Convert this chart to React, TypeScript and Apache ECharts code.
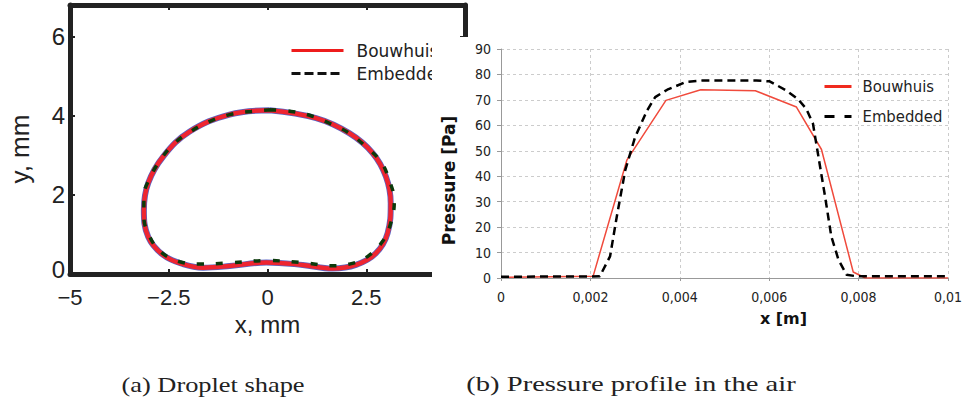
import React, { useEffect, useRef } from 'react';
import * as echarts from 'echarts';

// (a) Droplet shape, x and y in mm
const dropBouwhuisX = [0.05, -0.96, -1.97, -2.64, -3.02, -3.13, -3.02, -2.64, -2.14, -1.63, -0.96, -0.03, 0.89, 1.65, 2.24, 2.74, 3.04, 3.12, 3.0, 2.66, 2.07, 1.23, 0.05];
const dropBouwhuisY = [4.14, 4.03, 3.6, 2.97, 2.3, 1.62, 0.94, 0.48, 0.25, 0.16, 0.2, 0.29, 0.23, 0.14, 0.23, 0.52, 1.03, 1.79, 2.46, 3.06, 3.56, 3.94, 4.14];
const dropEmbeddedX = [0.09, -0.41, -0.96, -1.46, -1.95, -2.35, -2.68, -2.96, -3.13, -3.13, -2.98, -2.68, -2.22, -1.68, -0.96, -0.03, 1.06, 1.57, 2.07, 2.53, 2.91, 3.12, 3.21, 3.08, 2.87, 2.49, 2.07, 1.57, 1.1, 0.6, 0.09];
const dropEmbeddedY = [4.15, 4.11, 4.03, 3.86, 3.6, 3.31, 2.93, 2.46, 1.96, 1.45, 0.94, 0.54, 0.31, 0.25, 0.28, 0.34, 0.27, 0.21, 0.25, 0.44, 0.82, 1.28, 1.84, 2.38, 2.84, 3.22, 3.56, 3.81, 4.0, 4.11, 4.15];

// (b) Pressure profile in the air, x in m, pressure in Pa
const pressBouwhuisX = [0, 0.00206, 0.002815, 0.00369, 0.00447, 0.00569, 0.00661, 0.00717, 0.00788, 0.00815, 0.01];
const pressBouwhuis = [0.26, 0.65, 46.3, 69.8, 73.95, 73.6, 67.2, 50.5, 2.35, 0, 0];
const pressEmbeddedX = [0, 0.00221, 0.00244, 0.00259, 0.00278, 0.003, 0.00327, 0.00345, 0.00372, 0.00413, 0.0045, 0.00571, 0.00601, 0.00638, 0.00664, 0.00683, 0.00698, 0.00709, 0.00725, 0.00739, 0.00755, 0.00773, 0.00796, 0.01];
const pressEmbedded = [0.5, 0.65, 8.5, 24.1, 42.4, 55.4, 65.9, 71.1, 74.0, 77.0, 77.6, 77.6, 77.3, 73.7, 70.4, 66.5, 60.6, 48.9, 32.0, 16.3, 7.2, 1.3, 0.65, 0.65];

const captionA = '(a) Droplet shape';
const captionB = '(b) Pressure profile in the air';

const pairs = (xs: number[], ys: number[]) => xs.map((x, i) => [x, ys[i]]);

const helv = "'Liberation Sans', Arial, sans-serif";
const narrow = "'Liberation Sans Narrow', 'DejaVu Sans Condensed', 'Liberation Sans', sans-serif";
const cond = "'DejaVu Sans Condensed', 'DejaVu Sans', sans-serif";

const frameLine = { show: true, onZero: false, lineStyle: { color: '#222', width: 5 } };
const frameTick = { show: true, inside: true, length: 5, lineStyle: { color: '#222', width: 2 } };

const leftOption: any = {
  animation: false,
  grid: { left: 70, top: 5, width: 395, height: 269, containLabel: false },
  xAxis: [
    {
      type: 'value', min: -5, max: 5, interval: 2.5, position: 'bottom',
      axisLine: frameLine, axisTick: frameTick, splitLine: { show: false },
      axisLabel: {
        margin: 12, fontFamily: helv, fontSize: 22, lineHeight: 22, color: '#222',
        formatter: (v: number) => (v < 0 ? '\u2212' : '') + Math.abs(v),
      },
      name: 'x, mm', nameLocation: 'middle', nameGap: 39, nameMoveOverlap: false,
      nameTextStyle: { fontFamily: helv, fontSize: 24, lineHeight: 22, color: '#222' },
    },
    {
      type: 'value', min: -5, max: 5, interval: 2.5, position: 'top',
      axisLine: frameLine, axisTick: frameTick, splitLine: { show: false }, axisLabel: { show: false },
    },
  ],
  yAxis: [
    {
      type: 'value', min: 0, max: 6.8, interval: 2, position: 'left',
      axisLine: frameLine, axisTick: frameTick, splitLine: { show: false },
      axisLabel: {
        margin: 5, fontFamily: helv, fontSize: 24, color: '#222', showMaxLabel: false,
        formatter: (v: number) => (v === 0 ? '{z|0}' : String(v)),
        rich: { z: { fontFamily: helv, fontSize: 24, color: '#222', padding: [0, 0, 9, 0] } },
      },
      name: 'y, mm', nameLocation: 'middle', nameGap: 37, nameRotate: 90,
      nameTextStyle: { fontFamily: helv, fontSize: 26, color: '#222', padding: [0, 19, 0, 0] },
    },
    {
      type: 'value', min: 0, max: 6.8, interval: 2, position: 'right',
      axisLine: frameLine, axisTick: frameTick, splitLine: { show: false }, axisLabel: { show: false },
    },
  ],
  legend: {
    orient: 'vertical', left: 290, top: 42, padding: 0, itemWidth: 52, itemHeight: 14, itemGap: 6,
    itemStyle: { opacity: 0 },
    textStyle: { fontFamily: "'DejaVu Sans', sans-serif", fontSize: 17, color: '#222', padding: [0, 0, 0, 8] },
    data: [
      { name: 'Bouwhuis', lineStyle: { width: 3, color: '#ee1c1c' } },
      { name: 'Embedded', lineStyle: { width: 3, color: '#111', type: [9, 4] } },
    ],
  },
  series: [
    {
      name: 'outline', type: 'line', data: pairs(dropBouwhuisX, dropBouwhuisY), smooth: 0.4,
      symbol: 'none', lineStyle: { color: '#5a64c4', width: 6 }, z: 1,
    },
    {
      name: 'Bouwhuis', type: 'line', data: pairs(dropBouwhuisX, dropBouwhuisY), smooth: 0.4,
      symbol: 'none', itemStyle: { color: '#ee2530' }, lineStyle: { color: '#ee2530', width: 4.5 }, z: 2,
    },
    {
      name: 'Embedded', type: 'line', data: pairs(dropEmbeddedX, dropEmbeddedY), smooth: 0.4,
      symbol: 'none', itemStyle: { color: '#0b3a0b' }, lineStyle: { color: '#0b3a0b', width: 3.5, type: [7, 12] }, z: 3,
    },
  ],
  graphic: [
    {
      type: 'text', x: 213, y: 384, scaleX: 1.2,
      style: { text: captionA, fontFamily: "'Liberation Serif', serif", fontSize: 22, fill: '#222', align: 'center', verticalAlign: 'middle' },
    },
    {
      type: 'text', x: 631, y: 384, scaleX: 1.3,
      style: { text: captionB, fontFamily: "'Liberation Serif', serif", fontSize: 22, fill: '#222', align: 'center', verticalAlign: 'middle' },
    },
  ],
};

const rightOption: any = {
  animation: false,
  grid: { left: 63, top: 12, width: 454, height: 229, containLabel: false },
  xAxis: {
    type: 'value', min: 0, max: 0.01, interval: 0.002,
    axisLine: { show: true, onZero: false, lineStyle: { color: '#999', width: 1 } },
    axisTick: { show: true, length: 3, lineStyle: { color: '#999' } },
    splitLine: { show: true, lineStyle: { color: '#ccc', type: [3, 3], width: 1 } },
    axisLabel: {
      margin: 12, fontFamily: narrow, fontSize: 14, color: '#222',
      formatter: (v: number) => (v === 0 ? '0' : String(parseFloat(v.toFixed(4))).replace('.', ',')),
    },
    name: 'x [m]', nameLocation: 'middle', nameGap: 32,
    nameTextStyle: { fontFamily: "'DejaVu Sans', sans-serif", fontWeight: 'bold', fontSize: 16, color: '#111', padding: [0, 0, 0, 118] },
  },
  yAxis: {
    type: 'value', min: 0, max: 90, interval: 10,
    axisLine: { show: true, onZero: false, lineStyle: { color: '#999', width: 1 } },
    axisTick: { show: true, length: 4, lineStyle: { color: '#999' } },
    splitLine: { show: true, lineStyle: { color: '#ccc', type: [3, 3], width: 1 } },
    axisLabel: { margin: 10, fontFamily: narrow, fontSize: 14, color: '#222' },
    name: 'Pressure [Pa]', nameLocation: 'middle', nameGap: 44, nameRotate: 90,
    nameTextStyle: { fontFamily: "'DejaVu Sans', sans-serif", fontWeight: 'bold', fontSize: 17, color: '#111', padding: [0, 34, 0, 0] },
  },
  legend: {
    orient: 'vertical', left: 391, top: 41, padding: 0, itemWidth: 27, itemHeight: 14, itemGap: 13,
    itemStyle: { opacity: 0 },
    textStyle: { fontFamily: cond, fontSize: 16.5, color: '#222', padding: [0, 0, 0, 6] },
    data: [
      { name: 'Bouwhuis', lineStyle: { width: 3, color: '#f02a1e' } },
      { name: 'Embedded', lineStyle: { width: 3, color: '#000', type: [10, 10] } },
    ],
  },
  series: [
    {
      name: 'Bouwhuis', type: 'line', data: pairs(pressBouwhuisX, pressBouwhuis),
      symbol: 'none', itemStyle: { color: '#f04a3c' }, lineStyle: { color: '#f04a3c', width: 1.5 }, z: 2,
    },
    {
      name: 'Embedded', type: 'line', data: pairs(pressEmbeddedX, pressEmbedded),
      symbol: 'none', itemStyle: { color: '#000' }, lineStyle: { color: '#000', width: 2.5, type: [8, 5] }, z: 3,
    },
  ],
};

export default function App() {
  const leftRef = useRef<HTMLDivElement>(null);
  const rightRef = useRef<HTMLDivElement>(null);
  useEffect(() => {
    const l = echarts.init(leftRef.current!, undefined, { renderer: 'svg' });
    const r = echarts.init(rightRef.current!, undefined, { renderer: 'svg' });
    l.setOption(leftOption);
    r.setOption(rightOption);
    return () => {
      l.dispose();
      r.dispose();
    };
  }, []);
  return (
    <div style={{ position: 'absolute', left: 0, top: 0, width: 965, height: 405, background: '#fff', overflow: 'hidden' }}>
      <div ref={leftRef} style={{ position: 'absolute', left: 0, top: 0, width: 965, height: 405 }} />
      <div ref={rightRef} style={{ position: 'absolute', left: 432, top: 37, width: 533, height: 303, background: '#fff' }} />
    </div>
  );
}
